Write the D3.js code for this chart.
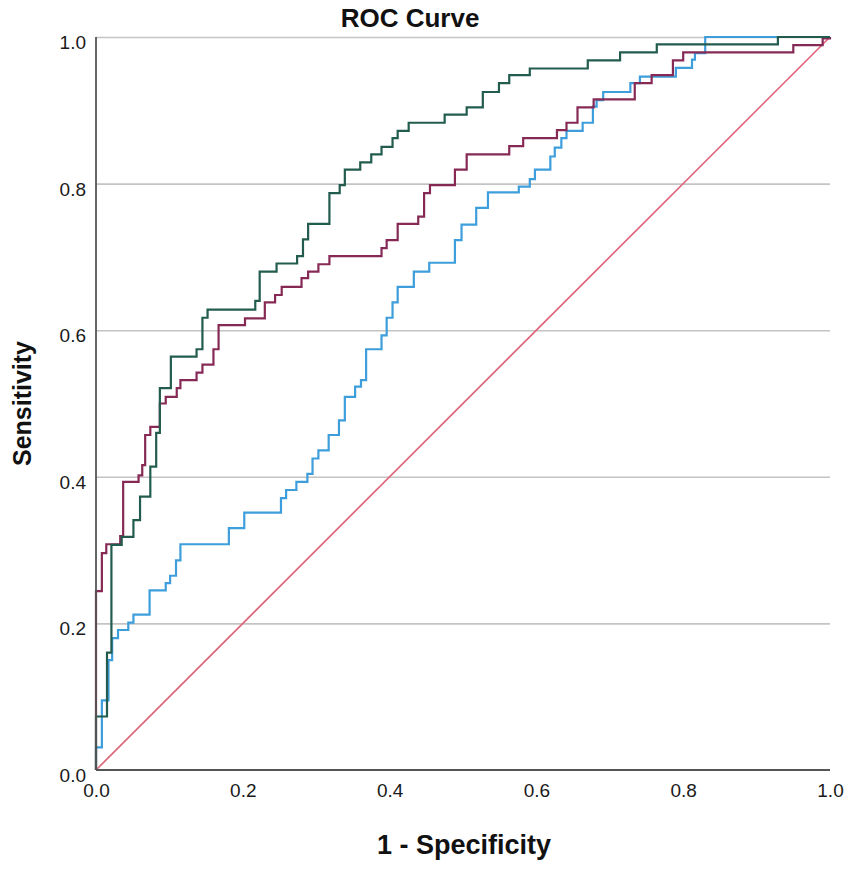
<html>
<head>
  <title>ROC Curve</title>
  <script src="https://d3js.org/d3.v7.min.js"></script>
  <style>
    body { margin: 0; background: #fff; }
    text { font-family: "Liberation Sans", Arial, sans-serif; }
  </style>
</head>
<body>
<script>
  /* step points of each curve: x where the jump happens, tpr after the jump */
  var greenFpr = [0, 0, 0.015, 0.021, 0.035, 0.051, 0.060, 0.074, 0.082, 0.087, 0.102, 0.137, 0.145, 0.152,
    0.217, 0.223, 0.246, 0.274, 0.282, 0.289, 0.318, 0.332, 0.339, 0.360, 0.375, 0.389, 0.404, 0.411, 0.426,
    0.475, 0.505, 0.527, 0.549, 0.563, 0.591, 0.670, 0.714, 0.764, 0.929, 1];
  var greenTpr = [0, 0.073, 0.160, 0.307, 0.318, 0.341, 0.373, 0.414, 0.460, 0.521, 0.564, 0.574, 0.617, 0.628,
    0.640, 0.680, 0.691, 0.701, 0.724, 0.745, 0.787, 0.798, 0.819, 0.829, 0.840, 0.850, 0.862, 0.872, 0.883,
    0.894, 0.904, 0.925, 0.937, 0.948, 0.957, 0.968, 0.979, 0.990, 1, 1];

  var maroonFpr = [0, 0, 0.008, 0.014, 0.033, 0.037, 0.058, 0.063, 0.067, 0.074, 0.087, 0.095, 0.110, 0.115,
    0.137, 0.145, 0.160, 0.167, 0.203, 0.230, 0.244, 0.253, 0.280, 0.289, 0.303, 0.318, 0.389, 0.396, 0.411,
    0.439, 0.447, 0.455, 0.489, 0.505, 0.563, 0.582, 0.628, 0.641, 0.656, 0.678, 0.734, 0.757, 0.786, 0.800,
    0.950, 0.990, 1];
  var maroonTpr = [0, 0.244, 0.296, 0.308, 0.319, 0.393, 0.402, 0.416, 0.457, 0.468, 0.500, 0.509, 0.521, 0.532,
    0.542, 0.553, 0.574, 0.607, 0.616, 0.638, 0.648, 0.659, 0.671, 0.680, 0.690, 0.701, 0.712, 0.723, 0.745,
    0.755, 0.787, 0.798, 0.819, 0.840, 0.851, 0.862, 0.873, 0.883, 0.904, 0.915, 0.937, 0.948, 0.968, 0.979,
    0.989, 0.998, 1];

  var blueFpr = [0, 0, 0.008, 0.017, 0.022, 0.030, 0.044, 0.051, 0.073, 0.095, 0.101, 0.109, 0.115, 0.181,
    0.202, 0.252, 0.259, 0.273, 0.288, 0.295, 0.303, 0.317, 0.331, 0.339, 0.353, 0.361, 0.368, 0.389, 0.396,
    0.404, 0.411, 0.433, 0.454, 0.489, 0.498, 0.518, 0.534, 0.576, 0.591, 0.598, 0.619, 0.625, 0.634, 0.641,
    0.663, 0.677, 0.682, 0.691, 0.728, 0.741, 0.790, 0.812, 0.816, 0.830, 1];
  var blueTpr = [0, 0.031, 0.095, 0.150, 0.180, 0.191, 0.201, 0.212, 0.245, 0.255, 0.265, 0.286, 0.308, 0.330,
    0.351, 0.371, 0.382, 0.393, 0.404, 0.425, 0.436, 0.457, 0.477, 0.509, 0.523, 0.532, 0.574, 0.593, 0.617,
    0.638, 0.659, 0.680, 0.692, 0.723, 0.744, 0.767, 0.788, 0.796, 0.806, 0.819, 0.837, 0.849, 0.862, 0.872,
    0.883, 0.905, 0.914, 0.925, 0.937, 0.946, 0.958, 0.969, 0.978, 1, 1];

  var tickValues = [0, 0.2, 0.4, 0.6, 0.8, 1.0];
  var gridValues = [0.2, 0.4, 0.6, 0.8, 1.0];

  var W = 851, H = 871;
  var pLeft = 96, pRight = 830, pTop = 37, pBottom = 770;

  var svg = d3.select("body").append("svg").attr("width", W).attr("height", H);

  var x = d3.scaleLinear().domain([0, 1]).range([pLeft, pRight]);
  var y = d3.scaleLinear().domain([0, 1]).range([pBottom, pTop]);

  // horizontal grid lines
  svg.append("g")
    .attr("transform", "translate(" + pLeft + ",0)")
    .call(d3.axisLeft(y).tickValues(gridValues).tickSize(-(pRight - pLeft)).tickFormat(""))
    .call(function(g) {
      g.select(".domain").remove();
      g.selectAll("line").attr("stroke", "#c4c4c4").attr("stroke-width", 1.6);
    });

  // tick labels
  svg.append("g")
    .attr("transform", "translate(" + pLeft + ",0)")
    .call(d3.axisLeft(y).tickValues(tickValues).tickSize(0).tickPadding(10).tickFormat(d3.format(".1f")))
    .call(function(g) {
      g.select(".domain").remove();
      g.selectAll("text").attr("font-size", 19).attr("fill", "#1a1a1a").attr("dy", "0.6em")
        .attr("font-family", "Liberation Sans, Arial, sans-serif");
    });
  svg.append("g")
    .attr("transform", "translate(0," + pBottom + ")")
    .call(d3.axisBottom(x).tickValues(tickValues).tickSize(0).tickPadding(14).tickFormat(d3.format(".1f")))
    .call(function(g) {
      g.select(".domain").remove();
      g.selectAll("text").attr("font-size", 19).attr("fill", "#1a1a1a")
        .attr("font-family", "Liberation Sans, Arial, sans-serif");
    });

  // reference diagonal
  svg.append("line")
    .attr("x1", x(0)).attr("y1", y(0)).attr("x2", x(1)).attr("y2", y(1))
    .attr("stroke", "#e0677a").attr("stroke-width", 1.7);

  var line = d3.line().x(function(d) { return x(d[0]); }).y(function(d) { return y(d[1]); })
    .curve(d3.curveStepAfter);

  function draw(fpr, tpr, color) {
    svg.append("path")
      .datum(d3.zip(fpr, tpr))
      .attr("fill", "none")
      .attr("stroke", color)
      .attr("stroke-width", 2.2)
      .attr("d", line);
  }
  draw(blueFpr, blueTpr, "#3d9edb");
  draw(maroonFpr, maroonTpr, "#862a55");
  draw(greenFpr, greenTpr, "#225c4e");

  // axis lines
  svg.append("line").attr("x1", pLeft).attr("x2", pLeft).attr("y1", pTop).attr("y2", pBottom)
    .attr("stroke", "#555").attr("stroke-width", 1.8);
  svg.append("line").attr("x1", pLeft).attr("x2", pRight).attr("y1", pBottom).attr("y2", pBottom)
    .attr("stroke", "#555").attr("stroke-width", 1.8);

  // titles
  svg.append("text").attr("x", 410).attr("y", 27).attr("text-anchor", "middle")
    .attr("font-size", 26).attr("font-weight", "bold").attr("fill", "#111").text("ROC Curve");
  svg.append("text").attr("x", 464).attr("y", 854).attr("text-anchor", "middle")
    .attr("font-size", 27).attr("font-weight", "bold").attr("fill", "#111").text("1 - Specificity");
  svg.append("text").attr("transform", "translate(31," + ((pTop + pBottom) / 2) + ") rotate(-90)")
    .attr("text-anchor", "middle")
    .attr("font-size", 25).attr("font-weight", "bold").attr("fill", "#111").text("Sensitivity");
</script>
</body>
</html>
